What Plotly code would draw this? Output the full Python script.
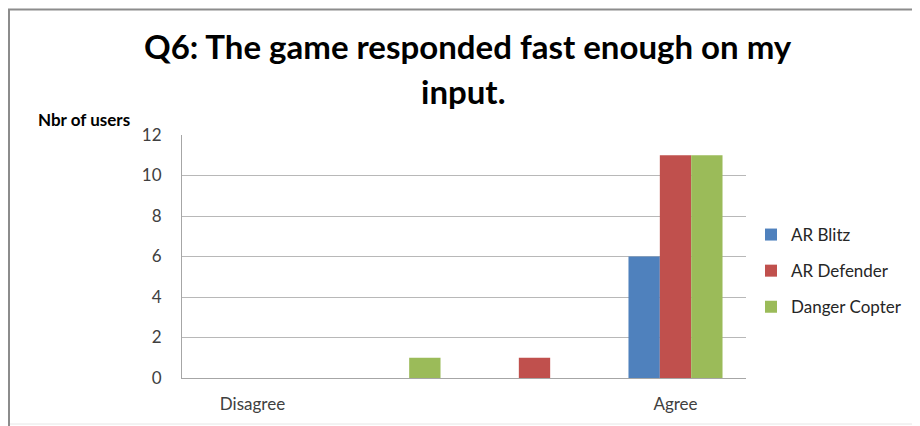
import plotly.graph_objects as go

categories = ["Disagree", "", "", "Agree"]
ar_blitz = [0, 0, 0, 6]
ar_defender = [0, 0, 1, 11]
danger_copter = [0, 1, 0, 11]
series_names = ["AR Blitz", "AR Defender", "Danger Copter"]
y_ticks = [0, 2, 4, 6, 8, 10, 12]

colors = ["#4F81BD", "#C0504D", "#9BBB59"]
FONT = "Lato"

# page has an 8px body margin, so the figure is drawn 8px in from the window edge
OFF = 8
W, H = 920 - OFF, 426 - OFF
L, T = 182 - OFF, 135 - OFF
R = W - (746 - OFF)
B = H - (378 - OFF)
pw, ph = W - L - R, H - T - B

def px_x(x):  # reference-window pixel -> paper
    return (x - OFF - L) / pw

def px_y(y):
    return (H - B - (y - OFF)) / ph

xs = list(range(len(categories)))
fig = go.Figure()
for name, vals, c in zip(series_names, [ar_blitz, ar_defender, danger_copter], colors):
    fig.add_trace(go.Bar(x=xs, y=vals, name=name, marker=dict(color=c, line=dict(width=0)),
                         legendgroup=name))

fig.update_layout(
    width=W, height=H,
    margin=dict(l=L, r=R, t=T, b=B, autoexpand=False),
    paper_bgcolor="white", plot_bgcolor="white",
    barmode="group", bargap=0.333, bargroupgap=0,
    font=dict(family=FONT, size=16, color="#404040"),
    showlegend=True,
    legend=dict(x=px_x(751), y=px_y(271), xanchor="left", yanchor="middle",
                font=dict(family=FONT, size=17, color="#262626"),
                tracegroupgap=11, itemwidth=30, bgcolor="rgba(0,0,0,0)"),
    xaxis=dict(tickmode="array", tickvals=xs, ticktext=categories, range=[-0.5, len(categories) - 0.5],
               showgrid=False, showline=True, linecolor="#a6a6a6", linewidth=1, ticks="",
               ticklabelstandoff=11, tickfont=dict(size=17, color="#404040"), zeroline=False),
    yaxis=dict(range=[0, 12], tickvals=y_ticks, showgrid=True, gridcolor="#b8b8b8", gridwidth=1,
               showline=True, linecolor="#a6a6a6", linewidth=1, ticks="", zeroline=False,
               ticklabelstandoff=16, tickfont=dict(size=17, color="#404040")),
)

fig.add_annotation(text="<b>Q6: The game responded fast enough on my</b>", x=px_x(468), y=px_y(46),
                   xref="paper", yref="paper", showarrow=False, xanchor="center", yanchor="middle",
                   font=dict(family=FONT, size=33, color="black"))
fig.add_annotation(text="<b>input.</b>", x=px_x(463), y=px_y(91),
                   xref="paper", yref="paper", showarrow=False, xanchor="center", yanchor="middle",
                   font=dict(family=FONT, size=33, color="black"))
fig.add_annotation(text="<b>Nbr of users</b>", x=px_x(36), y=px_y(119),
                   xref="paper", yref="paper", showarrow=False, xanchor="left", yanchor="middle",
                   font=dict(family=FONT, size=17, color="black"))

# outer frame
fig.add_shape(type="line", xref="paper", yref="paper", x0=px_x(8), x1=px_x(921), y0=px_y(9.5), y1=px_y(9.5),
              line=dict(color="#8c8c8c", width=2))
fig.add_shape(type="line", xref="paper", yref="paper", x0=px_x(9), x1=px_x(9), y0=px_y(9), y1=px_y(427),
              line=dict(color="#8c8c8c", width=2))
fig.add_shape(type="line", xref="paper", yref="paper", x0=px_x(10), x1=px_x(921), y0=px_y(424), y1=px_y(424),
              line=dict(color="#e6e6e6", width=1))

fig.write_html("out.html")
